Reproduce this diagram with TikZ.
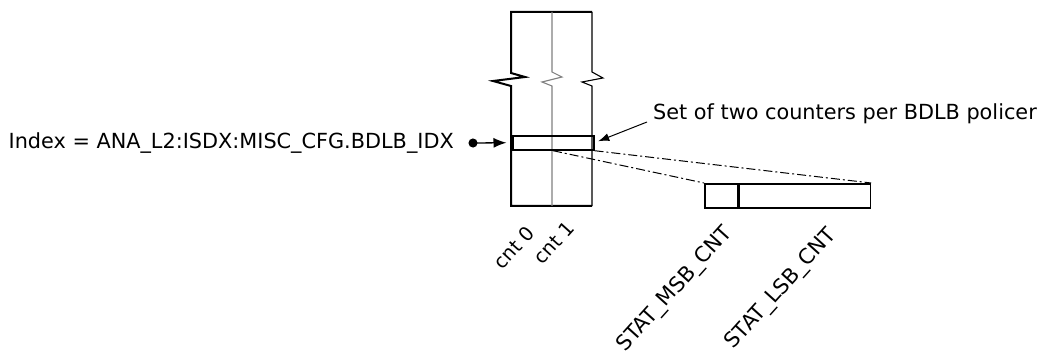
\documentclass[tikz,border=0pt]{standalone}
\usepackage{fontspec}
\setmainfont{DejaVu Sans}
\usetikzlibrary{arrows.meta}
\tikzset{
  lbl/.style={font=\fontsize{20.8}{24}\selectfont, inner sep=1pt},
  rotlbl/.style={rotate=48, anchor=north east, inner sep=0pt},
  field/.style={draw, line width=1.6pt, inner sep=0pt, minimum height=24pt},
  dashdot/.style={line width=1pt, dash pattern=on 9pt off 3pt on 2pt off 3pt}
}
\begin{document}
\begin{tikzpicture}[x=1pt,y=-1pt]
  \useasboundingbox (0,0) rectangle (1045,358);
  % counter column with break marks
  \draw[line width=2pt] (592,12) -- (511,12) -- (511,73) -- (525,77) -- (493,81) -- (511,86) -- (511,206) -- (592,206);
  \draw[line width=1.1pt] (592,12) -- (592,72) -- (603,78) -- (582,82) -- (592,86) -- (592,206);
  \draw[line width=1.1pt, gray] (552,12) -- (552,72) -- (562,77) -- (542,82) -- (552,86) -- (552,206);
  % selected row
  \node[draw, line width=2pt, inner sep=0pt, minimum width=81pt, minimum height=14pt] (row) at (553,142.7) {};
  \node[lbl, anchor=east] (idx) at (455,143) {Index = ANA\_L2:ISDX:MISC\_CFG.BDLB\_IDX};
  \coordinate (dot) at (473,143);
  \draw[line width=1.3pt, {Circle[length=9pt]}-{Latex[length=13pt,width=10pt]}, shorten >=5pt, shorten <=-4.5pt] (dot) -- (row.west);
  % callout
  \node[lbl, anchor=west] (callout) at (652,114) {Set of two counters per BDLB policer};
  \coordinate (co) at (647,122);
  \draw[line width=1pt, -{Latex[length=11pt,width=8pt]}, shorten >=4pt] (co) -- (row.east);
  % counter register
  \node[field, minimum width=33pt, anchor=north west] (msb) at (704,183) {};
  \node[field, minimum width=131pt, anchor=north west] (lsb) at (msb.north east) {};
  \draw[dashdot] (row.south) -- (msb.north west);
  \draw[dashdot] (row.south east) -- (lsb.north east);
  % labels
  \node[rotlbl, font=\fontsize{19.5}{22}\selectfont] (c0) at (525,224) {cnt 0};
  \node[rotlbl, font=\fontsize{19.5}{22}\selectfont] (c1) at (565,219) {cnt 1};
  \node[rotlbl, font=\fontsize{21}{24}\selectfont] (ms) at (721,223) {STAT\_MSB\_CNT};
  \node[rotlbl, font=\fontsize{21}{24}\selectfont] (ls) at (825,225) {STAT\_LSB\_CNT};
\end{tikzpicture}
\end{document}
